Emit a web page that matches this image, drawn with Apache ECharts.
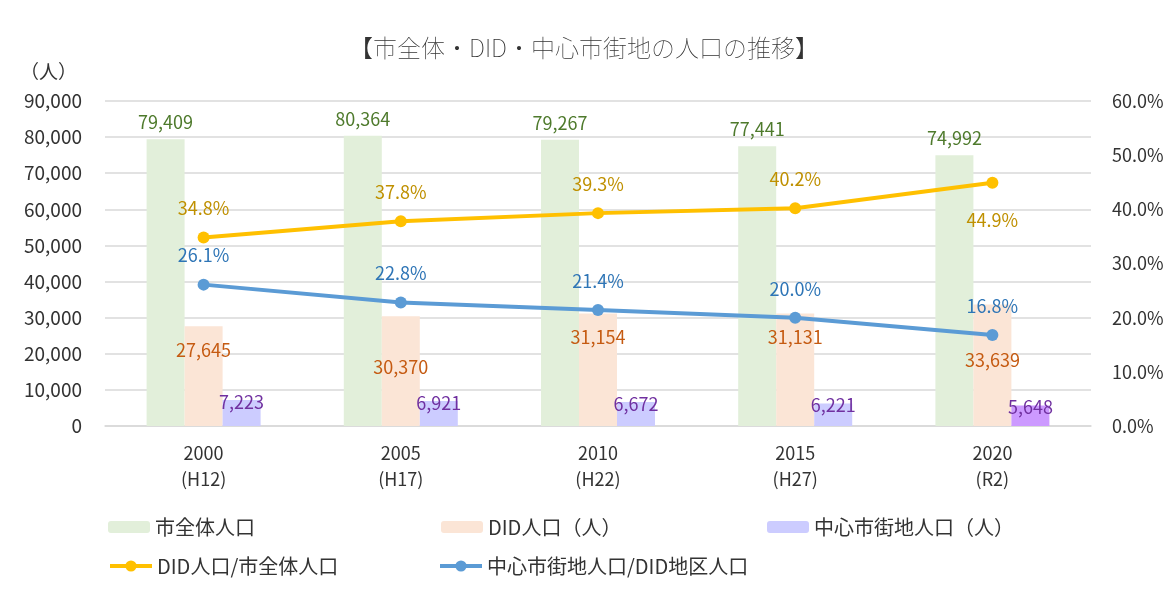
<!DOCTYPE html>
<html lang="ja">
<head>
    <meta charset="UTF-8">
    <title>市全体・DID・中心市街地の人口の推移</title>
    <script src="https://cdn.jsdelivr.net/npm/echarts@6/dist/echarts.min.js" type="text/javascript"></script>
    <style>
        html, body { margin: 0; padding: 0; background: #fff; }
        #chart { width: 1168px; height: 589px; }
    </style>
</head>
<body>
<div id="chart"></div>
<script>
    // 年次
    var years = ['2000\n(H12)', '2005\n(H17)', '2010\n(H22)', '2015\n(H27)', '2020\n(R2)'];
    // 人口（人）
    var cityPop = [79409, 80364, 79267, 77441, 74992];
    var didPop = [27645, 30370, 31154, 31131, 33639];
    var centerPop = [7223, 6921, 6672, 6221, 5648];
    // 比率（%）
    var didRatio = [34.8, 37.8, 39.3, 40.2, 44.9];
    var centerRatio = [26.1, 22.8, 21.4, 20.0, 16.8];
    // 軸目盛
    var leftTicks = [0, 90000, 10000];
    var rightTicks = [0, 60, 10];

    // DIDラベルの下げ幅（重なり回避）
    var didLabelShift = [0, 27, 0, 0, 32];

    var FONT = '"Noto Sans CJK JP", "Noto Sans", sans-serif';
    var TXT = '#333333';

    function fmt(v) {
        return v.toLocaleString('en-US');
    }

    var didData = didPop.map(function (v, i) {
        return {value: v, label: {offset: [0, didLabelShift[i]]}};
    });
    var centerData = centerPop.map(function (v, i) {
        return i === centerPop.length - 1 ? {value: v, itemStyle: {color: '#CC99FF'}} : v;
    });
    var didRatioData = didRatio.map(function (v, i) {
        return i === didRatio.length - 1 ? {value: v, label: {position: 'bottom', distance: 22}} : v;
    });

    var barLegend = {itemWidth: 42, itemHeight: 12, itemGap: 4};
    var lineLegend = {itemWidth: 42, itemHeight: 14, itemGap: 4, lineStyle: {width: 4}};

    var option = {
        animation: false,
        textStyle: {fontFamily: FONT},
        title: {
            text: '【市全体・DID・中心市街地の人口の推移】',
            left: 'center',
            top: 31,
            textStyle: {fontFamily: FONT, fontSize: 24, fontWeight: 'lighter', color: TXT}
        },
        legend: [
            Object.assign({data: ['市全体人口'], left: 103, top: 512}, barLegend),
            Object.assign({data: ['DID人口（人）'], left: 436, top: 512}, barLegend),
            Object.assign({data: ['中心市街地人口（人）'], left: 762, top: 512}, barLegend),
            Object.assign({data: ['DID人口/市全体人口'], left: 103, top: 551}, lineLegend),
            Object.assign({data: ['中心市街地人口/DID地区人口'], left: 433, top: 551}, lineLegend)
        ].map(function (l) {
            l.textStyle = {fontFamily: FONT, fontSize: 20, color: TXT};
            return l;
        }),
        grid: {left: 105, right: 77, top: 101, bottom: 163},
        xAxis: {
            type: 'category',
            data: years,
            axisLine: {lineStyle: {color: '#d9d9d9', width: 1.5}},
            axisTick: {show: false},
            axisLabel: {color: TXT, fontSize: 18, lineHeight: 26, margin: 14, fontFamily: FONT}
        },
        yAxis: [
            {
                type: 'value',
                min: leftTicks[0],
                max: leftTicks[1],
                interval: leftTicks[2],
                name: '（人）',
                nameLocation: 'end',
                nameGap: 20,
                nameTextStyle: {color: TXT, fontSize: 19, align: 'right', padding: [0, 28, 0, 0], fontFamily: FONT},
                axisLabel: {color: TXT, fontSize: 19, margin: 23, formatter: fmt, fontFamily: FONT},
                splitLine: {lineStyle: {color: '#d9d9d9', width: 1.5}}
            },
            {
                type: 'value',
                min: rightTicks[0],
                max: rightTicks[1],
                interval: rightTicks[2],
                axisLabel: {
                    color: TXT, fontSize: 18, margin: 21, fontFamily: FONT,
                    formatter: function (v) { return v.toFixed(1) + '%'; }
                },
                splitLine: {show: false}
            }
        ],
        series: [
            {
                name: '市全体人口',
                type: 'bar',
                barWidth: 38,
                barGap: '0%',
                data: cityPop,
                itemStyle: {color: '#E2EFDA'},
                label: {show: true, position: 'top', distance: 8, color: '#4E7A2C', fontSize: 18, formatter: function (p) { return fmt(p.value); }}
            },
            {
                name: 'DID人口（人）',
                type: 'bar',
                barWidth: 38,
                barGap: '0%',
                data: didData,
                itemStyle: {color: '#FBE5D6'},
                label: {show: true, position: 'insideTop', distance: 15, color: '#C55A11', fontSize: 18, formatter: function (p) { return fmt(p.value); }}
            },
            {
                name: '中心市街地人口（人）',
                type: 'bar',
                barWidth: 38,
                barGap: '0%',
                data: centerData,
                itemStyle: {color: '#CCCCFF'},
                label: {show: true, position: 'insideTop', distance: -7, color: '#7030A0', fontSize: 18, formatter: function (p) { return fmt(p.value); }}
            },
            {
                name: 'DID人口/市全体人口',
                type: 'line',
                yAxisIndex: 1,
                data: didRatioData,
                symbol: 'circle',
                symbolSize: 12,
                lineStyle: {color: '#FFC000', width: 4},
                itemStyle: {color: '#FFC000'},
                label: {show: true, position: 'top', distance: 14, color: '#BF9000', fontSize: 18, formatter: function (p) { return p.value.toFixed(1) + '%'; }}
            },
            {
                name: '中心市街地人口/DID地区人口',
                type: 'line',
                yAxisIndex: 1,
                data: centerRatio,
                symbol: 'circle',
                symbolSize: 12,
                lineStyle: {color: '#5B9BD5', width: 4},
                itemStyle: {color: '#5B9BD5'},
                label: {show: true, position: 'top', distance: 14, color: '#2E75B6', fontSize: 18, formatter: function (p) { return p.value.toFixed(1) + '%'; }}
            }
        ]
    };

    var chart = echarts.init(document.getElementById('chart'));
    chart.setOption(option);
</script>
</body>
</html>
